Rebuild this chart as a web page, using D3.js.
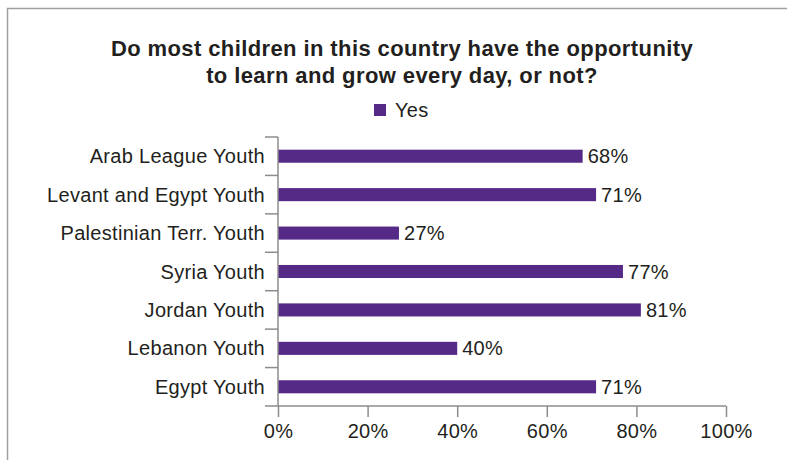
<!DOCTYPE html>
<html><head><meta charset="utf-8">
<script src="https://cdn.jsdelivr.net/npm/d3@7"></script>
<style>body{margin:0;background:#fff;}svg{display:block;font-family:"Liberation Sans",Arial,sans-serif;}</style>
</head><body>
<svg id="c" width="787" height="460"></svg>
<script>
const categories = ["Arab League Youth","Levant and Egypt Youth","Palestinian Terr. Youth","Syria Youth","Jordan Youth","Lebanon Youth","Egypt Youth"];
const yesValues = [68,71,27,77,81,40,71];
const tickValues = [0,20,40,60,80,100];
const seriesName = "Yes";
const titleLines = ["Do most children in this country have the opportunity","to learn and grow every day, or not?"];

const svg = d3.select("#c");
const color = "#552a87", ink = "#231f20", axisCol = "#8c8c8c";
const fs = 20, ls = 0.3;
svg.append("rect").attr("x",7.5).attr("y",8.5).attr("width",800).attr("height",500)
  .attr("fill","none").attr("stroke","#a0a0a0").attr("stroke-width",1.5);

const x = d3.scaleLinear().domain([0,100]).range([278,726]);
const y = d3.scaleBand().domain(categories).range([137,406]).paddingInner(0.66).paddingOuter(0.33);

svg.selectAll("text.title").data(titleLines).join("text").attr("class","title")
  .attr("x",402).attr("y",(d,i)=>56+i*27).attr("text-anchor","middle")
  .attr("font-weight","bold").attr("font-size",22).attr("letter-spacing",0.4).attr("fill",ink).text(d=>d);

svg.append("rect").attr("x",374).attr("y",104).attr("width",12).attr("height",12).attr("fill",color);
svg.append("text").attr("x",395).attr("y",117).attr("font-size",fs).attr("letter-spacing",ls).attr("fill",ink).text(seriesName);

svg.selectAll("rect.bar").data(yesValues).join("rect").attr("class","bar")
  .attr("x",x(0)).attr("y",(d,i)=>y(categories[i])).attr("width",d=>x(d)-x(0))
  .attr("height",y.bandwidth()).attr("fill",color);

svg.selectAll("text.val").data(yesValues).join("text").attr("class","val")
  .attr("x",d=>x(d)+5).attr("y",(d,i)=>y(categories[i])+y.bandwidth()/2).attr("dy","0.35em")
  .attr("font-size",fs).attr("letter-spacing",ls).attr("fill",ink).text(d=>d+"%");

// x axis
const xa = svg.append("g").attr("transform","translate(0,406)")
  .call(d3.axisBottom(x).tickValues(tickValues).tickFormat(d=>d+"%").tickSize(11).tickPadding(7));
xa.select(".domain").attr("stroke",axisCol).attr("stroke-width",1.5).attr("d","M278,0H726");
xa.selectAll(".tick line").attr("stroke",axisCol).attr("stroke-width",1.5);
xa.selectAll(".tick text").attr("font-size",fs).attr("letter-spacing",ls).attr("fill",ink).attr("font-family","Liberation Sans, Arial, sans-serif");

// y axis with ticks at band boundaries
const bounds = d3.range(categories.length+1).map(i=>137+i*(406-137)/categories.length);
svg.append("line").attr("x1",x(0)).attr("x2",x(0)).attr("y1",137).attr("y2",406).attr("stroke",axisCol).attr("stroke-width",1.5);
svg.selectAll("line.yt").data(bounds).join("line").attr("class","yt")
  .attr("x1",x(0)-13).attr("x2",x(0)).attr("y1",d=>d).attr("y2",d=>d).attr("stroke",axisCol).attr("stroke-width",1.5);
svg.selectAll("text.cat").data(categories).join("text").attr("class","cat")
  .attr("x",265).attr("y",d=>y(d)+y.bandwidth()/2).attr("dy","0.35em").attr("text-anchor","end")
  .attr("font-size",fs).attr("letter-spacing",ls).attr("fill",ink).text(d=>d);
</script>
</body></html>
